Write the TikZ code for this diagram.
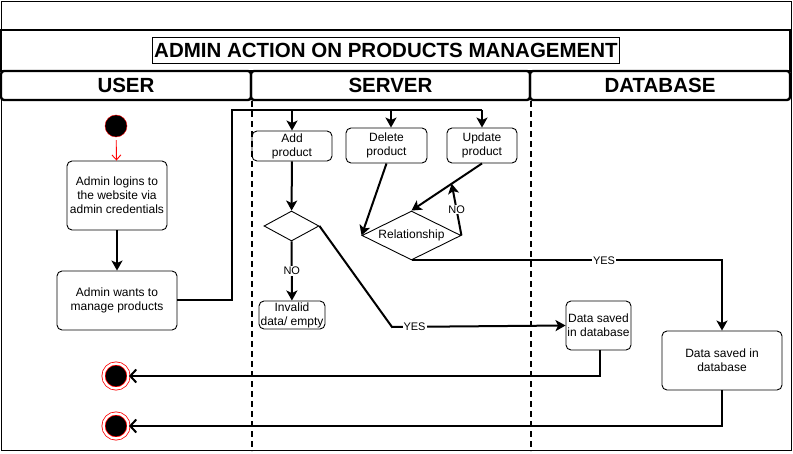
\documentclass[tikz,border=0pt]{standalone}
\usepackage{fontspec}
\setmainfont{Liberation Sans}
\usetikzlibrary{arrows.meta,shapes.geometric,calc}

\begin{document}
\begin{tikzpicture}[x=1pt,y=-1pt,>={Stealth[length=10pt,width=11pt,inset=2.5pt]},
        act/.style={draw, rectangle, rounded corners=5pt, line width=0.9pt, align=center, inner sep=1pt, font=\fontsize{12}{14}\selectfont},
        lanehead/.style={draw, line width=2.4pt, rectangle, rounded corners=3pt, minimum height=29pt, font=\bfseries\fontsize{20.5}{24}\selectfont},
        decision/.style={draw, diamond, aspect=2, line width=0.9pt, inner sep=0pt, font=\fontsize{12}{14}\selectfont},
        flow/.style={line width=2pt},
        txt/.style={fill=white, inner sep=1pt, font=\fontsize{11}{13}\selectfont},
        endnode/.style={circle, draw=red, line width=0.8pt, double=white, double distance=2.4pt, fill=black, minimum size=25pt, inner sep=0pt}]
        \useasboundingbox (0,0) rectangle (793,454);
        \draw[line width=0.9pt] (1,1) rectangle (791,450);

        \node (titlebar) [draw, rectangle, line width=2.4pt, minimum width=789, minimum height=41] at (395.5,50.5) {};
        \node (title) [draw, rectangle, line width=0.9pt, inner sep=1.5pt, minimum height=26, font=\bfseries\fontsize{20.5}{24}\selectfont] at (386,50) {ADMIN ACTION ON PRODUCTS MANAGEMENT};
        \node (user) [lanehead, minimum width=250] at (126,85.5) {USER};
        \node (server) [lanehead, minimum width=279] at (390.5,85.5) {SERVER};
        \node (database) [lanehead, minimum width=260] at (660,85.5) {DATABASE};

        \draw[line width=1.5pt, dash pattern=on 6pt off 4pt] (user.south east) -- ++(0,350);
        \draw[line width=1.5pt, dash pattern=on 6pt off 4pt] (server.south east) -- ++(0,350);

        \node (start) [circle, draw=red, fill=black, minimum size=22pt, inner sep=0pt] at (116,126) {};
        \node (login) [act, minimum width=100, minimum height=69] at (117,195.5) {Admin logins to\\the website via\\admin credentials};
        \node (manage) [act, minimum width=120, minimum height=59] at (117,300.5) {Admin wants to\\manage products};

        \node (add) [act, minimum width=80, minimum height=30] at (292,146) {Add\\product};
        \node (delete) [act, minimum width=81, minimum height=35] at (386.5,145.5) {Delete\\product};
        \node (update) [act, minimum width=70, minimum height=35] at (482,145.5) {Update\\product};
        \node (check) [decision, minimum width=55, minimum height=30] at (291.5,226) {};
        \node (rel) [decision, minimum width=99, minimum height=49] at (411.5,235.5) {Relationship};
        \node (invalid) [act, minimum width=66, minimum height=28] at (292,315) {Invalid\\data/ empty};

        \node (saved1) [act, minimum width=65, minimum height=49] at (598.5,325.5) {Data saved\\in database};
        \node (saved2) [act, minimum width=120, minimum height=59] at (722,360.5) {Data saved in\\database};

        \node (end1) [endnode] at (116,376) {};
        \node (end2) [endnode] at (116,426) {};

        \draw[red, line width=0.9pt, -{Straight Barb[length=5pt,width=9pt]}, shorten <=3pt] (start) -- (login);
        \draw[flow, ->] (login) -- (manage);

        \coordinate (split) at (232,110);
        \draw[flow] (manage.east) -| (split) -- (split -| update.north);
        \draw[flow, ->] (split -| add.north) -- (add.north);
        \draw[flow, ->] ([xshift=4.5pt]delete.north |- split) -- ([xshift=4.5pt]delete.north);
        \draw[flow, ->] (split -| update.north) -- (update.north);

        \draw[flow, ->] (add) -- (check);
        \draw[flow, ->] (check) -- node[txt] {NO} (invalid);
        \coordinate (yesbend) at (392,327);
        \draw[flow, ->] (check.east) -- (yesbend) -- node[txt, pos=0.13] {YES} (saved1.west);

        \draw[flow, ->] (delete.south) -- (rel.west);
        \draw[flow, ->] (update.south) -- (rel.north);
        \coordinate (noend) at ($(update.south)!0.43!(rel.north)$);
        \draw[flow, ->] (rel.east) -- node[txt] {NO} (noend);
        \draw[flow, ->] (rel.south) -| node[txt, pos=0.31] {YES} (saved2.north);

        \draw[flow, -{Straight Barb[length=6pt,width=13pt]}] ([xshift=1.5pt]saved1.south) |- (end1);
        \draw[flow, -{Straight Barb[length=6pt,width=13pt]}] (saved2.south) |- (end2);
    \end{tikzpicture}
\end{document}
